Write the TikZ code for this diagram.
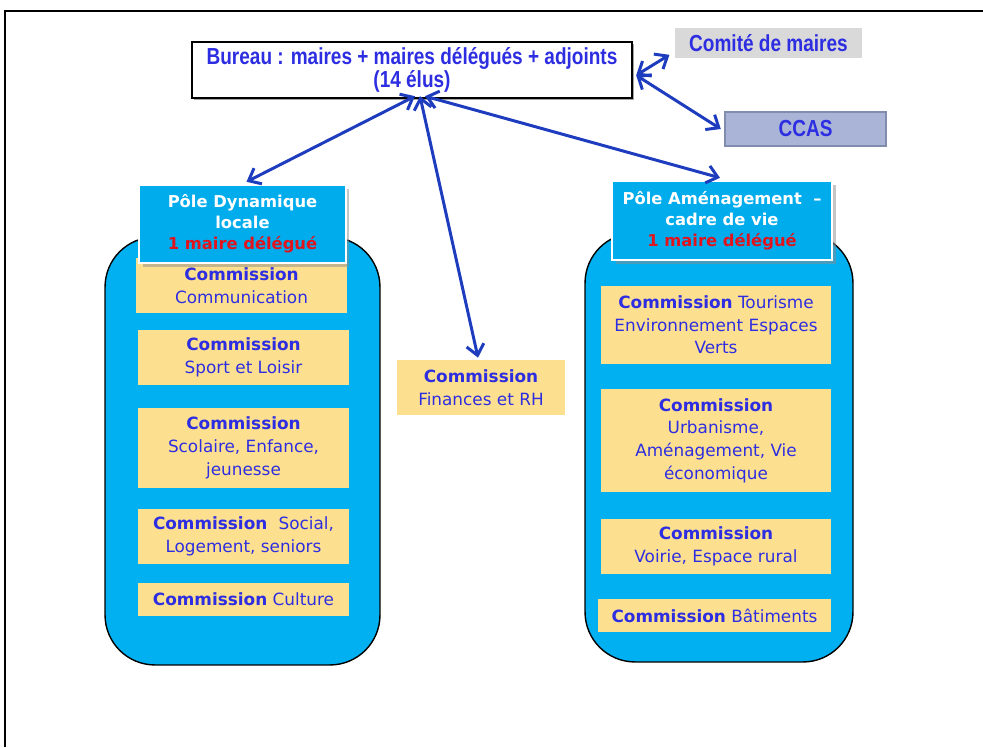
\documentclass[tikz,border=0pt]{standalone}
\usepackage{fontspec}
\setmainfont{DejaVu Sans}
\newfontfamily\narrowfont[FakeStretch=0.82]{Liberation Sans}
\usetikzlibrary{arrows.meta,shadows}
\definecolor{txtblue}{RGB}{45,45,225}
\definecolor{arrowblue}{RGB}{30,60,190}
\definecolor{polefill}{RGB}{0,176,240}
\definecolor{headfill}{RGB}{0,172,236}
\definecolor{comfill}{RGB}{253,224,143}
\definecolor{redtxt}{RGB}{225,20,30}
\definecolor{ccasfill}{RGB}{170,180,215}
\definecolor{ccasdraw}{RGB}{130,140,175}
\definecolor{grayfill}{RGB}{217,217,217}
\tikzset{
  combox/.style={fill=comfill, draw=none, text=txtblue, align=center, inner sep=0pt,
    font=\fontsize{9.6}{12.9}\selectfont},
  bigbox/.style={fill=polefill, draw=black, line width=0.8pt, rounded corners=1cm, inner sep=0pt},
  headbox/.style={fill=headfill, draw=white, line width=0.8pt, text=white, align=center, inner sep=0pt,
    font=\bfseries\fontsize{9.3}{12}\selectfont,
    drop shadow={shadow xshift=2pt, shadow yshift=-2pt, fill=black!45}},
  topbox/.style={text=txtblue, align=center, inner sep=0pt,
    font=\narrowfont\bfseries\fontsize{13.2}{13}\selectfont},
  link/.style={draw=arrowblue, line width=1.7pt,
    {Straight Barb[length=6pt,width=10pt,line width=1.7pt]}-{Straight Barb[length=6pt,width=10pt,line width=1.7pt]}}
}
\begin{document}
\begin{tikzpicture}[x=0.02cm,y=-0.02cm]
\useasboundingbox (0,0) rectangle (983,747);
% outer frame
\draw[line width=1.2pt] (5,747) -- (5,11) -- (983,11);

% top boxes
\node[topbox, fill=white, draw=black, line width=0.8pt, minimum width=8.8cm, minimum height=1.12cm,
  drop shadow={shadow xshift=1.2pt, shadow yshift=-1.2pt, fill=black!70}] (bureau) at (412,70)
  {Bureau : maires + maires délégués + adjoints\\(14 élus)};
\node[topbox, fill=grayfill, minimum width=3.74cm, minimum height=0.6cm] (comite) at (768.5,43) {Comité de maires};
\node[topbox, fill=ccasfill, draw=ccasdraw, line width=0.8pt, minimum width=3.22cm, minimum height=0.68cm] (ccas) at (805.5,129) {CCAS};

% left pole
\node[bigbox, minimum width=5.5cm, minimum height=8.56cm] (bigL) at (242.5,451) {};
\node[combox, minimum width=4.22cm, minimum height=1.1cm] (L1) at (241.5,285.5) {\textbf{Commission}\\Communication};
\node[combox, minimum width=4.22cm, minimum height=1.1cm] (L2) at (243.5,357.5) {\textbf{Commission}\\Sport et Loisir};
\node[combox, minimum width=4.22cm, minimum height=1.6cm] (L3) at (243.5,448) {\textbf{Commission}\\Scolaire, Enfance,\\jeunesse};
\node[combox, minimum width=4.22cm, minimum height=1.1cm] (L4) at (243.5,536.5) {\textbf{Commission}\hspace{0.35em} Social,\\Logement, seniors};
\node[combox, minimum width=4.22cm, minimum height=0.66cm] (L5) at (243.5,599.5) {\textbf{Commission} Culture};
\node[headbox, minimum width=4.14cm, minimum height=1.56cm] (poleL) at (242.5,224)
  {Pôle Dynamique\\locale\\\textcolor{redtxt}{1 maire délégué}};

% finances
\node[combox, minimum width=3.36cm, minimum height=1.1cm] (fin) at (481,387.5) {\textbf{Commission}\\Finances et RH};

% right pole
\node[bigbox, minimum width=5.36cm, minimum height=8.58cm] (bigR) at (719,447.5) {};
\node[combox, minimum width=4.6cm, minimum height=1.56cm] (R1) at (716,325) {\textbf{Commission} Tourisme\\Environnement Espaces\\Verts};
\node[combox, minimum width=4.6cm, minimum height=2.06cm] (R2) at (716,440.5) {\textbf{Commission}\\Urbanisme,\\Aménagement, Vie\\économique};
\node[combox, minimum width=4.6cm, minimum height=1.1cm] (R3) at (716,546.5) {\textbf{Commission}\\Voirie, Espace rural};
\node[combox, minimum width=4.66cm, minimum height=0.66cm] (R4) at (714.5,615.5) {\textbf{Commission} Bâtiments};
\node[headbox, minimum width=4.4cm, minimum height=1.58cm] (poleR) at (722,220.5)
  {Pôle Aménagement \ –\\cadre de vie\\\textcolor{redtxt}{1 maire délégué}};

% connectors
\draw[link] ([xshift=2pt,yshift=-3pt]bureau.east) -- ([xshift=-3pt,yshift=2pt]comite.south west);
\draw[link] ([xshift=2pt,yshift=-3pt]bureau.east) -- ([xshift=-2pt]ccas.west);
\draw[link] ([xshift=0.06cm,yshift=0.05cm]bureau.south) -- ([xshift=0.08cm,yshift=0.05cm]poleL.north);
\draw[link] ([xshift=0.16cm,yshift=0.05cm]bureau.south) -- ([xshift=-0.06cm,yshift=0.04cm]fin.north);
\draw[link] ([xshift=0.26cm,yshift=0.05cm]bureau.south) -- ([xshift=-0.04cm,yshift=0.05cm]poleR.north);
\end{tikzpicture}
\end{document}
